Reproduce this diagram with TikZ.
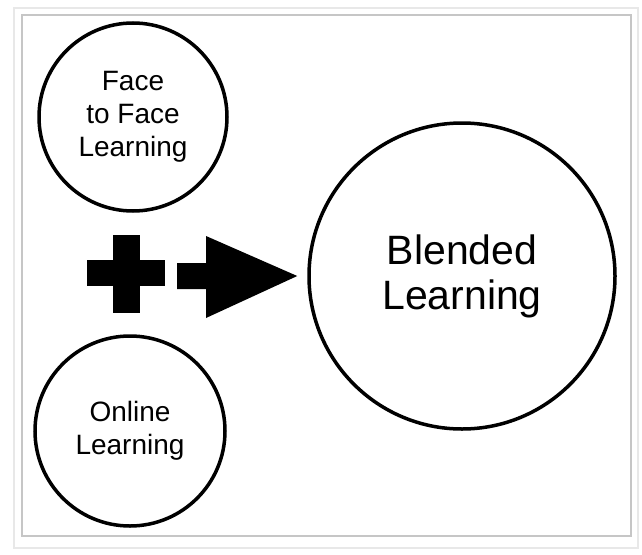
\documentclass[tikz,border=0pt]{standalone}
\usepackage{fontspec}
\setmainfont{Liberation Sans}
\usetikzlibrary{positioning}

\begin{document}
\begin{tikzpicture}[x=1pt,y=-1pt]
\useasboundingbox (0,0) rectangle (642,554);
% frame with shadow
\draw[gray!18, line width=2.5pt] (14,8) rectangle (638,548);
\draw[gray!45, line width=1.5pt, fill=white] (22,15) rectangle (631,536);
\begin{scope}[every node/.style={circle,draw,line width=3.5pt,inner sep=0pt,align=center}]
    \node[minimum size=188pt, font=\fontsize{28}{33}\selectfont] (ftf) at (133,117) {Face\\to Face\\Learning};
    \node[minimum size=190pt, font=\fontsize{28}{33}\selectfont] (online) at (130,431) {Online\\Learning};
    \node[minimum size=306pt, font=\fontsize{41}{45}\selectfont] (blended) at (462,276) {Blended\\Learning};
\end{scope}
% plus sign
\coordinate (plus) at (126.5,273);
\fill (plus) ++(-39.5,-13) rectangle ++(78,26);
\fill (plus) ++(-13.5,-38) rectangle ++(27,78);
% arrow pointing at the big circle
\coordinate (arrow) at (177,276);
\coordinate (tip) at ([xshift=-10pt]blended.west);
\fill (arrow) ++(0,-13) -- ++(29,0) -- ++(0,-27) -- (tip) -- (206,318) -- (206,289) -- (177,289) -- cycle;
\end{tikzpicture}
\end{document}
